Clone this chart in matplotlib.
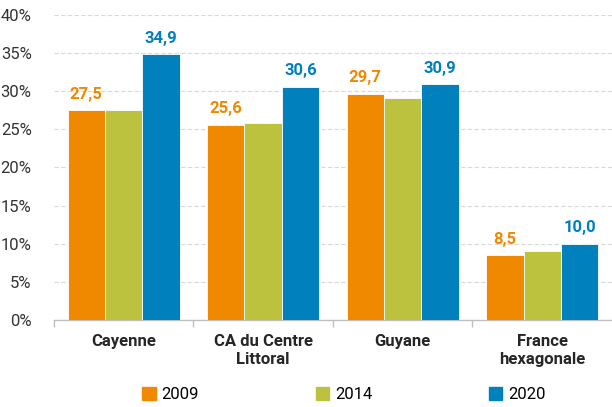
import numpy as np
import matplotlib.pyplot as plt

plt.rcParams["font.family"] = ["Roboto", "DejaVu Sans"]

categories = ["Cayenne", "CA du Centre\nLittoral", "Guyane", "France\nhexagonale"]
series_names = ["2009", "2014", "2020"]
values_2009 = [27.5, 25.6, 29.7, 8.5]
values_2014 = [27.5, 25.9, 29.1, 9.1]
values_2020 = [34.9, 30.6, 30.9, 10.0]
colors = ["#F08800", "#BCC13E", "#0180BE"]

fig = plt.figure(figsize=(6.12, 4.07), dpi=100)
ax = fig.add_axes([0.088, 0.214, 0.912, 0.749])

x = np.arange(len(categories))
width = 0.268
all_values = [values_2009, values_2014, values_2020]
for i, (vals, name, col) in enumerate(zip(all_values, series_names, colors)):
    pos = x + (i - 1) * width
    ax.bar(pos, vals, width, color=col, label=name, edgecolor="white",
           linewidth=0.6, zorder=3)
    if name != "2014":
        for p, v in zip(pos, vals):
            ax.text(p, v + 1.1, f"{v:.1f}".replace(".", ","), ha="center",
                    va="bottom", color=col, fontsize=12, fontweight="bold")

ax.set_xlim(-0.5, len(categories) - 0.5)
ax.set_ylim(0, 40)
ax.set_yticks(np.arange(0, 41, 5))
ax.set_yticklabels([f"{t}%" for t in range(0, 41, 5)], fontsize=12, color="#333333")
ax.yaxis.grid(True, color="#D9D9D9", linestyle=(0, (4, 2)), linewidth=0.8, zorder=0)
ax.tick_params(axis="y", length=0, pad=16)

# category separators as ticks
ax.set_xticks(np.arange(-0.5, len(categories) - 0.5, 1.0))
ax.set_xticklabels([])
ax.tick_params(axis="x", length=5, color="#BFBFBF", width=1)
for xi, lab in zip(x, categories):
    ax.text(xi, -1.8, lab, ha="center", va="top", fontsize=12,
            fontweight="bold", color="#262626", linespacing=1.25)

for s in ["top", "right", "left"]:
    ax.spines[s].set_visible(False)
ax.spines["bottom"].set_color("#BFBFBF")
ax.spines["bottom"].set_linewidth(1)

handles = [plt.Rectangle((0, 0), 1, 1, color=c) for c in colors]
fig.legend(handles, series_names, loc="center", bbox_to_anchor=(0.562, 0.03),
           ncol=3, frameon=False, fontsize=12, handlelength=0.8,
           handleheight=0.8, handletextpad=0.35, columnspacing=7.0)

fig.savefig("out.png", dpi=100)
